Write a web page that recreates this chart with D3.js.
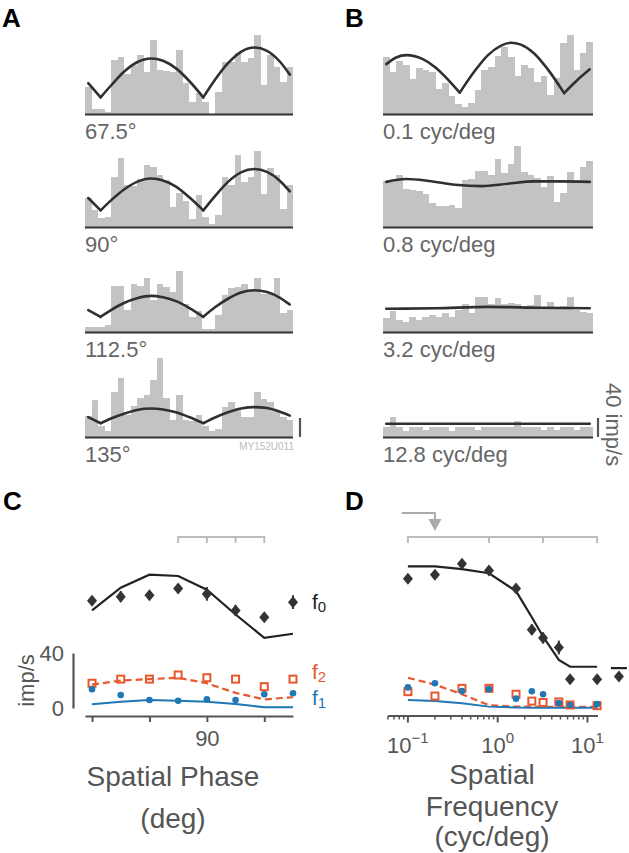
<!DOCTYPE html>
<html><head><meta charset="utf-8">
<script src="https://cdn.jsdelivr.net/npm/d3@7"></script>
<style>
body{margin:0;background:#fff;}
svg{display:block;font-family:"Liberation Sans",Arial,Helvetica,sans-serif;}
</style></head><body>
<svg id="chart" width="629" height="853"></svg>
<script>
// ---------------- DATA ----------------
const binCount = 32;
const phaseLabels = ["67.5°", "90°", "112.5°", "135°"];
const sfLabels = ["0.1 cyc/deg", "0.8 cyc/deg", "3.2 cyc/deg", "12.8 cyc/deg"];

// PSTH bins (imp/s)
const histA1 = [56,10,10,5,114,119,84,103,124,89,156,93,91,88,135,65,26,45,26,1,47,110,109,129,110,117,166,61,124,100,68,98];
const histA2 = [61,36,19,21,105,145,88,86,101,131,126,110,100,42,72,54,17,68,21,7,26,105,89,151,95,105,161,70,124,110,38,89];
const histA3 = [10,10,10,15,97,97,46,102,97,114,67,102,95,85,128,60,32,45,6,6,36,78,92,95,102,88,113,80,80,113,41,46];
const histA4 = [44,77,23,12,94,124,47,66,82,89,119,166,82,36,88,35,33,46,23,12,17,63,73,61,42,42,94,79,73,54,42,36];
const histB1 = [119,89,112,103,73,96,93,89,52,65,37,21,14,24,51,93,100,122,142,119,80,103,96,68,79,40,75,149,166,93,128,152];
const histB2 = [96,96,110,80,77,75,70,51,45,45,47,40,98,101,117,117,110,143,114,133,170,116,110,103,84,108,52,72,116,96,126,138];
const histB3 = [29,45,25,22,31,25,32,36,32,41,32,46,59,41,74,74,60,71,60,62,60,55,57,77,50,63,53,55,74,46,43,41];
const histB4 = [21,42,21,12,21,21,14,21,21,21,13,21,21,21,14,21,21,21,21,21,33,21,21,21,14,21,14,21,21,14,21,21];

// model responses (bin position, imp/s)
const curveXA = [0.5,2.4,4,6,8,10.2,12,14,16,18.2,20,22,24,26.1,28,30,31.5];
const curveA1 = [65,35,60,89,109,117,112,96,70,35,72,107,131,140,133,110,83];
const curveA2 = [61,35,56,79,95,102,98,85,63,35,65,95,115,122,116,97,75];
const curveA3 = [46,32,46,61,71,76,73,65,51,32,52,70,83,88,84,72,58];
const curveA4 = [42,29,39,49,57,60,58,52,42,29,41,52,60,63,61,53,45];
const curveXB1 = [0.5,2,3.6,6,8,10,11.7,14,16,18,19.5,21,23,25,27.6,29.5,31.5];
const curveB1 = [105,119,124,116,98,71,45,91,124,144,150,146,128,96,44,70,94];
const curveXB2 = [0.5,3.5,7,11,15,19,23,27,31.5];
const curveB2 = [95,101,97,89,86,91,96,96,95];
const curveXB3 = [0.5,8,16,24,31.5];
const curveB3 = [49,50,53,51,50];
const curveXB4 = [0.5,31.5];
const curveB4 = [28,28];

// Panel C: spatial phase
const phases = [0,22.5,45,67.5,90,112.5,135,157.5];
const phaseF0 = [78,81,82,87,83,71,66,77];
const phaseF0Err = [2,4,2,2,5,4,2,5];
const phaseF0Fit = [71,87.5,97,96,86,68,51,54];
const phaseF1 = [13.6,9.5,5.8,5.3,6.3,5.8,10,10.7];
const phaseF1Fit = [2.7,4.6,5.8,5.3,4.6,2.9,0.5,0.5];
const phaseF2 = [18,21,21,24,22,21,15.5,21];
const phaseF2Fit = [17,20,21,22,18,11,6.3,7.8];
const phaseTicks = [0,45,90,135];
const phaseTickLabels = ["","","90",""];
const phaseBracket = [67.5,90,112.5,135];

// Panel D: spatial frequency
const sfs = [0.1,0.2,0.4,0.8,1.6,2.4,3.2,4.8,6.4,12.8];
const sfF0 = [94,97,105,100,87,57,51,44,21,21];
const sfF0Err = [2,2,2,2,2,4,4,5,2,2];
const sfF0Fit = [103,103,101,98,85,66,52,35,30,30];
const sfF1 = [15,18,12.3,13.7,6.8,12.2,10,3.6,2.2,2.8];
const sfF1Fit = [5.8,5.1,3.4,1,0.3,0.2,0.2,0.2,0.2,0.2];
const sfF2 = [11.9,8.7,14.3,14.3,10,5,4,4.4,2.2,1.7];
const sfF2Fit = [22,17,10,2,1,1,0.8,0.8,0.8,0.8];
const blankPos = 22.4, blankF0 = 23, blankF0Err = 2, blankFit = 29;
const sfBracket = [0.1,0.8,3.2,12.8];
const sfPeak = 0.2;
const sfMajor = [0.1,1,10];
const sfMajorExp = ["−1","0","1"];

// ---------------- DRAW ----------------
const svg = d3.select("#chart");
const histColor = "#c3c3c3", curveColor = "#303030", textGray = "#666";
const orange = "#e8582c", blue = "#1f77b4", axisGray = "#555", lightGray = "#bdbdbd";

const xA = d3.scaleLinear().domain([0, binCount]).range([85, 293]);
const xB = d3.scaleLinear().domain([0, binCount]).range([383, 593]);
const hS = d3.scaleLinear().domain([0, 40]).range([0, 19]);
const baselines = [114, 227, 332, 437];

function splitAtMinima(xs, ys){
  const segs = []; let start = 0;
  for (let i = 1; i < ys.length - 1; i++){
    if (ys[i] < ys[i-1] && ys[i] < ys[i+1]){ segs.push([start, i]); start = i; }
  }
  segs.push([start, ys.length - 1]);
  return segs.map(([a,b]) => d3.range(a, b+1).map(i => [xs[i], ys[i]]));
}

function drawHist(xs, base, hist, cx, cy, sharp, label){
  const g = svg.append("g");
  g.selectAll("rect").data(hist).join("rect")
    .attr("x", (d,i) => xs(i)).attr("width", (d,i) => xs(i+1) - xs(i) + 0.3)
    .attr("y", d => base - hS(d)).attr("height", d => hS(d))
    .attr("fill", histColor).attr("shape-rendering", "crispEdges");
  g.append("line").attr("x1", xs(0)).attr("x2", xs(binCount))
    .attr("y1", base + 0.5).attr("y2", base + 0.5)
    .attr("stroke", "#333").attr("stroke-width", 2.2);
  const line = d3.line().x(d => xs(d[0])).y(d => base - hS(d[1])).curve(d3.curveMonotoneX);
  const segs = sharp ? splitAtMinima(cx, cy) : [cx.map((x,i) => [x, cy[i]])];
  segs.forEach(s => g.append("path").attr("d", line(s)).attr("fill", "none")
    .attr("stroke", curveColor).attr("stroke-width", 2.6).attr("stroke-linejoin","round").attr("stroke-linecap","round"));
  g.append("text").attr("x", xs(0)).attr("y", base + 25).attr("font-size", 22)
    .attr("fill", textGray).text(label);
}

const histsA = [histA1, histA2, histA3, histA4];
const curvesA = [curveA1, curveA2, curveA3, curveA4];
histsA.forEach((h, i) => drawHist(xA, baselines[i], h, curveXA, curvesA[i], true, phaseLabels[i]));
const histsB = [histB1, histB2, histB3, histB4];
const curvesB = [[curveXB1, curveB1, true], [curveXB2, curveB2, false], [curveXB3, curveB3, false], [curveXB4, curveB4, false]];
histsB.forEach((h, i) => drawHist(xB, baselines[i], h, curvesB[i][0], curvesB[i][1], curvesB[i][2], sfLabels[i]));

// scale bars
[300, 598].forEach(x => svg.append("line").attr("x1", x).attr("x2", x)
  .attr("y1", baselines[3] - hS(40)).attr("y2", baselines[3])
  .attr("stroke", "#555").attr("stroke-width", 2.2));
svg.append("text").attr("transform", `translate(606,${baselines[3] - 54}) rotate(90)`)
  .attr("font-size", 22).attr("fill", textGray).text("40 imp/s");
svg.append("text").attr("x", 294).attr("y", 450).attr("text-anchor", "end")
  .attr("font-size", 10).attr("fill", "#bbb").text("MY152U011");

// panel letters
[["A", 2, 27], ["B", 345, 27], ["C", 3, 510], ["D", 345, 510]].forEach(([t, x, y]) =>
  svg.append("text").attr("x", x).attr("y", y).attr("font-size", 26).attr("font-weight", "bold")
    .attr("fill", "#000").text(t));

// ---------- common y scale for C & D ----------
const yR = d3.scaleLinear().domain([0, 40]).range([708, 653]);
const axisY = 716;

function diamond(g, x, y){
  g.append("path").attr("d", `M${x},${y-6}L${x+5},${y}L${x},${y+6}L${x-5},${y}Z`).attr("fill", "#333");
}
function drawMarkers(g, xs, vals, errs, fits){
  g.append("path").attr("d", d3.line()(xs.map((x,i) => [x, yR(fits.f0[i])])))
    .attr("fill","none").attr("stroke","#222").attr("stroke-width",2.2);
  g.append("path").attr("d", d3.line()(xs.map((x,i) => [x, yR(fits.f2[i])])))
    .attr("fill","none").attr("stroke",orange).attr("stroke-width",2.2).attr("stroke-dasharray","7,4");
  g.append("path").attr("d", d3.line()(xs.map((x,i) => [x, yR(fits.f1[i])])))
    .attr("fill","none").attr("stroke",blue).attr("stroke-width",2);
  xs.forEach((x,i) => {
    g.append("line").attr("x1",x).attr("x2",x).attr("y1",yR(vals.f0[i]-errs[i]))
      .attr("y2",yR(vals.f0[i]+errs[i])).attr("stroke","#333").attr("stroke-width",2);
    diamond(g, x, yR(vals.f0[i]));
    g.append("rect").attr("x",x-3.5).attr("y",yR(vals.f2[i])-3.5).attr("width",7).attr("height",7)
      .attr("fill","none").attr("stroke",orange).attr("stroke-width",2);
    g.append("circle").attr("cx",x).attr("cy",yR(vals.f1[i])).attr("r",3.3).attr("fill",blue);
  });
}

// ---------------- Panel C ----------------
const xC = d3.scaleLinear().domain([-5.5, 157.5]).range([85, 293]);
const gC = svg.append("g");
gC.append("line").attr("x1", xC(phaseBracket[0])).attr("x2", xC(phaseBracket[3]))
  .attr("y1", 537).attr("y2", 537).attr("stroke", lightGray).attr("stroke-width", 2);
phaseBracket.forEach(p => gC.append("line").attr("x1", xC(p)).attr("x2", xC(p))
  .attr("y1", 536).attr("y2", 543).attr("stroke", lightGray).attr("stroke-width", 2));
drawMarkers(gC, phases.map(p => xC(p)), {f0: phaseF0, f1: phaseF1, f2: phaseF2}, phaseF0Err,
  {f0: phaseF0Fit, f1: phaseF1Fit, f2: phaseF2Fit});
const axC = gC.append("g").attr("transform", `translate(0,${axisY})`)
  .call(d3.axisBottom(xC).tickValues(phaseTicks).tickSize(6).tickSizeOuter(0)
    .tickFormat((d,i) => phaseTickLabels[i]).tickPadding(8));
axC.select(".domain").attr("stroke", axisGray).attr("stroke-width", 2);
axC.selectAll(".tick line").attr("stroke", axisGray).attr("stroke-width", 2);
axC.selectAll(".tick text").attr("font-size", 22).attr("fill", axisGray).attr("font-family", null);
const ayC = gC.append("g").attr("transform", "translate(73,0)")
  .call(d3.axisLeft(yR).tickValues([0, 40]).tickSize(0).tickPadding(9));
ayC.select(".domain").attr("stroke", axisGray).attr("stroke-width", 2.2);
ayC.selectAll(".tick text").attr("font-size", 22).attr("fill", axisGray).attr("font-family", null);
gC.append("text").attr("transform", `translate(34,${yR(20)}) rotate(-90)`).attr("text-anchor","middle")
  .attr("font-size", 22).attr("fill", axisGray).text("imp/s");
// legend labels
[["0", "#222", 609], ["2", orange, 679], ["1", blue, 705]].forEach(([s, c, y]) => {
  const t = svg.append("text").attr("x", 312).attr("y", y).attr("font-size", 21).attr("fill", c);
  t.append("tspan").text("f");
  t.append("tspan").attr("dy", 3).attr("font-size", 15).text(s);
});
gC.append("text").attr("x", 173).attr("y", 786).attr("text-anchor","middle").attr("font-size", 28)
  .attr("fill", axisGray).text("Spatial Phase");
gC.append("text").attr("x", 173).attr("y", 828).attr("text-anchor","middle").attr("font-size", 28)
  .attr("fill", axisGray).text("(deg)");

// ---------------- Panel D ----------------
const xD = d3.scaleLog().domain([0.06, 13.1]).range([388, 598]);
const gD = svg.append("g");
gD.append("line").attr("x1", xD(sfBracket[0])).attr("x2", xD(sfBracket[3]))
  .attr("y1", 537).attr("y2", 537).attr("stroke", lightGray).attr("stroke-width", 2);
sfBracket.forEach(p => gD.append("line").attr("x1", xD(p)).attr("x2", xD(p))
  .attr("y1", 536).attr("y2", 543).attr("stroke", lightGray).attr("stroke-width", 2));
gD.append("path").attr("d", `M${xD(sfBracket[0]) - 6},513H${xD(sfPeak)}V520`)
  .attr("fill","none").attr("stroke", "#aaa").attr("stroke-width", 2);
gD.append("path").attr("d", `M${xD(sfPeak)-6.5},519L${xD(sfPeak)+6.5},519L${xD(sfPeak)},531Z`).attr("fill", "#aaa");
drawMarkers(gD, sfs.map(f => xD(f)), {f0: sfF0, f1: sfF1, f2: sfF2}, sfF0Err,
  {f0: sfF0Fit, f1: sfF1Fit, f2: sfF2Fit});
gD.append("line").attr("x1", xD(blankPos) - 8).attr("x2", xD(blankPos) + 8)
  .attr("y1", yR(blankFit)).attr("y2", yR(blankFit)).attr("stroke", "#222").attr("stroke-width", 2.2);
gD.append("line").attr("x1", xD(blankPos)).attr("x2", xD(blankPos))
  .attr("y1", yR(blankF0 - blankF0Err)).attr("y2", yR(blankF0 + blankF0Err)).attr("stroke", "#333").attr("stroke-width", 2);
diamond(gD, xD(blankPos), yR(blankF0));
const minor = [];
[0.01, 0.1, 1, 10].forEach(dec => d3.range(2, 10).forEach(m => {
  const v = dec * m; if (v >= 0.06 && v <= 13.1) minor.push(v);
}));
const axD = gD.append("g").attr("transform", `translate(0,${axisY})`);
axD.append("line").attr("x1", 388).attr("x2", 598).attr("stroke", axisGray).attr("stroke-width", 2);
minor.forEach(v => axD.append("line").attr("x1", xD(v)).attr("x2", xD(v)).attr("y1", 0).attr("y2", 3.5)
  .attr("stroke", axisGray).attr("stroke-width", 1.5));
sfMajor.forEach((v, i) => {
  axD.append("line").attr("x1", xD(v)).attr("x2", xD(v)).attr("y1", 0).attr("y2", 6.5)
    .attr("stroke", axisGray).attr("stroke-width", 2);
  const t = axD.append("text").attr("x", xD(v)).attr("y", 37).attr("text-anchor", "middle")
    .attr("font-size", 22).attr("fill", axisGray);
  t.append("tspan").text("10");
  t.append("tspan").attr("dy", -10).attr("font-size", 15).text(sfMajorExp[i]);
});
[["Spatial", 784], ["Frequency", 816], ["(cyc/deg)", 846]].forEach(([s, y]) =>
  gD.append("text").attr("x", 492).attr("y", y).attr("text-anchor","middle").attr("font-size", 28)
    .attr("fill", axisGray).text(s));
</script>
</body></html>
